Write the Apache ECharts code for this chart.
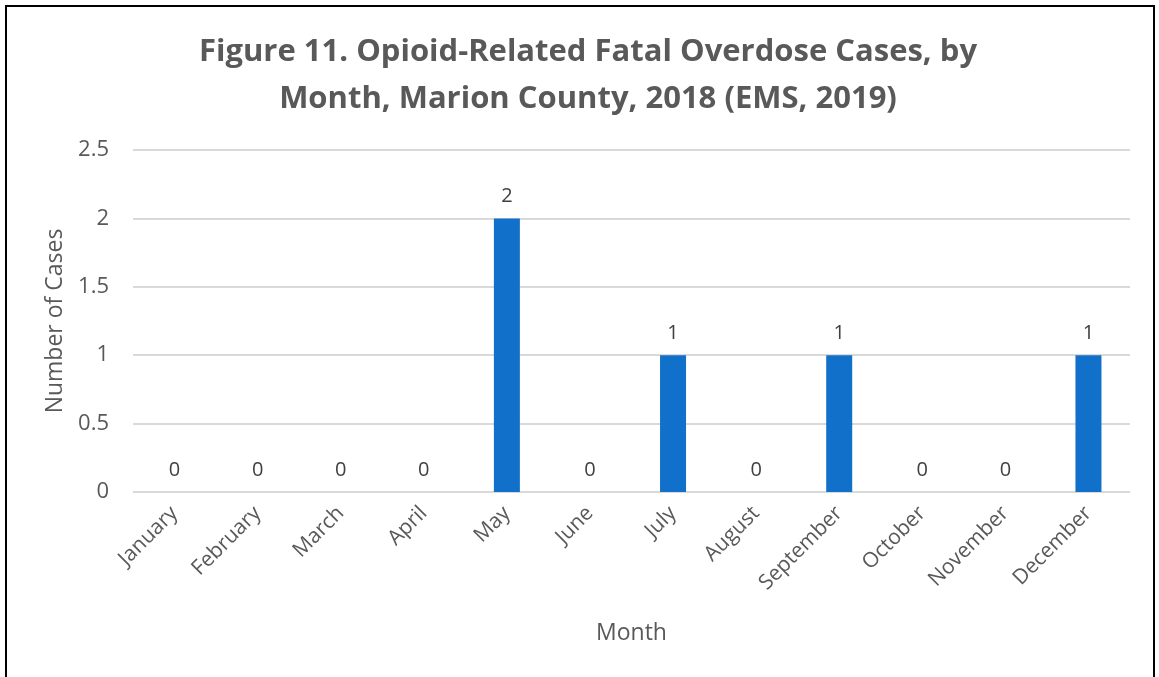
<!DOCTYPE html>
<html><head><meta charset="utf-8">
<script src="https://cdn.jsdelivr.net/npm/echarts@6/dist/echarts.min.js"></script>
<style>
html,body{margin:0;padding:0;background:#fff;}
#c{position:absolute;left:0;top:0;width:1159px;height:677px;}
#frame{position:absolute;left:5px;top:5px;width:1150px;height:700px;border:2px solid #000;box-sizing:border-box;pointer-events:none;}
</style></head>
<body>
<div id="c"></div>
<div id="frame"></div>
<script>
const titleLines = ['Figure 11. Opioid-Related Fatal Overdose Cases, by', 'Month, Marion County, 2018 (EMS, 2019)'];
const months = ['January','February','March','April','May','June','July','August','September','October','November','December'];
const cases = [0,0,0,0,2,0,1,0,1,0,0,1];
const yTicks = {min: 0, max: 2.5, interval: 0.5};
const xName = 'Month';
const yName = 'Number of Cases';

const chart = echarts.init(document.getElementById('c'), null, {renderer:'canvas'});
const font = '"Open Sans", "Noto Sans", sans-serif';
chart.setOption({
  animation:false,
  backgroundColor:'#fff',
  title:{
    text: titleLines.join('\n'),
    left: 583, top: 24, textAlign:'center',
    textStyle:{fontFamily:font, fontWeight:'bold', fontSize:31, color:'#595959', lineHeight:47}
  },
  grid:{left:133, right:29, top:150, bottom:185},
  xAxis:{
    type:'category', data: months,
    name: xName, nameLocation:'middle', nameGap:130,
    nameTextStyle:{fontFamily:font, fontSize:23, color:'#595959'},
    axisLine:{show:true, lineStyle:{color:'#d9d9d9', width:1}},
    axisTick:{show:false},
    axisLabel:{rotate:45, interval:0, fontFamily:font, fontSize:21, color:'#595959', margin:18}
  },
  yAxis:{
    type:'value', min:yTicks.min, max:yTicks.max, interval:yTicks.interval,
    name: yName, nameLocation:'middle', nameGap:60,
    nameTextStyle:{fontFamily:font, fontSize:23, color:'#595959'},
    axisLine:{show:false}, axisTick:{show:false},
    axisLabel:{fontFamily:font, fontSize:22, color:'#595959', margin:24},
    splitLine:{lineStyle:{color:'#d9d9d9', width:2}}
  },
  series:[{
    type:'bar', data: cases, barWidth:26,
    itemStyle:{color:'#1170C9'},
    label:{show:true, position:'top', distance:12, fontFamily:font, fontSize:20, color:'#404040'}
  }]
});
</script>
</body></html>
